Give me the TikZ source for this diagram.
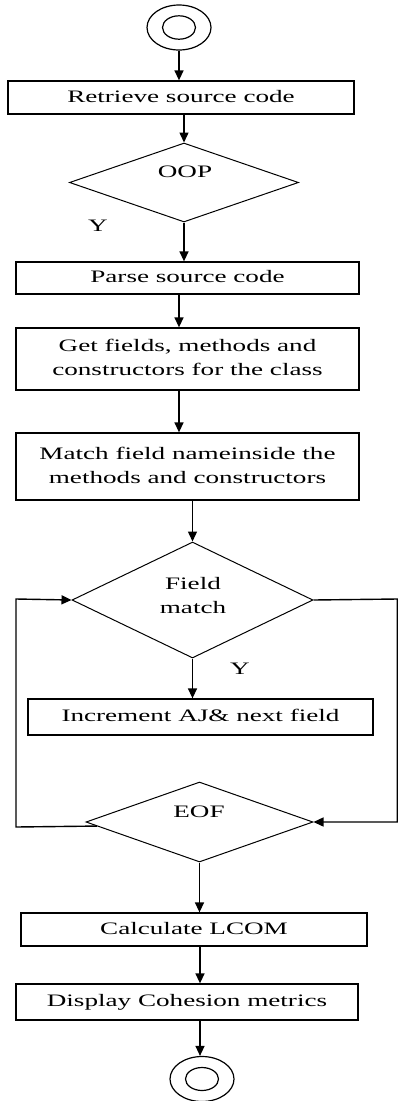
\documentclass[tikz,border=0pt]{standalone}
\usepackage{fontspec}
\setmainfont{Liberation Serif}
\usepackage{graphicx}
\usetikzlibrary{shapes.geometric,arrows.meta,calc}

% wide serif lettering used throughout the chart
\newcommand{\wtxt}[1]{\scalebox{1.55}[1]{\begin{tabular}{@{}c@{}}#1\end{tabular}}}

\tikzset{
  flow/.style={line width=1.4pt, draw=black},
  arr/.style={flow, -{Triangle[length=10pt,width=9pt]}},
  procbox/.style={draw, line width=1.3pt, rectangle, inner sep=0pt,
    font=\fontsize{17.5}{24}\selectfont},
  decision/.style={draw, line width=1pt, diamond, inner sep=0pt},
  lbl/.style={font=\fontsize{17.5}{24}\selectfont, inner sep=0pt},
  terminal/.style={draw, line width=1.2pt, ellipse, inner sep=0pt,
    minimum width=64pt, minimum height=45pt},
}

\begin{document}
\begin{tikzpicture}[x=1pt, y=-1pt]
  \useasboundingbox[fill=white] (0,0) rectangle (398,1101);

  % start / end symbols
  \node[terminal] (start) at (179,27.5) {};
  \draw[line width=1.2pt] (start.center) ellipse [x radius=16.5pt, y radius=11.7pt];
  \node[terminal] (stop) at (202,1079) {};
  \draw[line width=1.2pt] (stop.center) ellipse [x radius=16.5pt, y radius=11.5pt];

  % process steps
  \node[procbox, minimum width=346pt, minimum height=33pt] (retr) at (181,97.5)
    {\wtxt{Retrieve source code}};
  \node[procbox, minimum width=343pt, minimum height=32pt] (parse) at (187.5,278)
    {\wtxt{Parse source code}};
  \node[procbox, minimum width=343pt, minimum height=62pt] (get) at (187.5,359)
    {\wtxt{Get fields, methods and\\constructors for the class}};
  \node[procbox, minimum width=343pt, minimum height=67pt] (match) at (187.5,466.5)
    {\wtxt{Match field nameinside the\\methods and constructors}};
  \node[procbox, minimum width=345pt, minimum height=36pt] (inc) at (200.5,717)
    {\wtxt{Increment AJ\& next field}};
  \node[procbox, minimum width=346pt, minimum height=33pt] (calc) at (194,929.5)
    {\wtxt{Calculate LCOM}};
  \node[procbox, minimum width=342pt, minimum height=36pt] (disp) at (187,1002)
    {\wtxt{Display Cohesion metrics}};

  % decisions
  \node[decision, minimum width=229pt, minimum height=79pt] (oop) at (184,182.5) {};
  \node[lbl] (oopt) at (185,173) {\wtxt{OOP}};
  \node[decision, minimum width=241pt, minimum height=116pt] (field) at (192.5,600) {};
  \node[lbl] (fieldt) at (193,596.5) {\wtxt{Field\\match}};
  \node[decision, minimum width=227pt, minimum height=80pt] (eof) at (199.5,822) {};
  \node[lbl] (eoft) at (199,813) {\wtxt{EOF}};

  % branch labels
  \node[lbl] (y1) at (98,227) {\wtxt{Y}};
  \node[lbl] (y2) at (240,670) {\wtxt{Y}};

  % loop routing points
  \coordinate (lb) at (16,827);
  \coordinate (lt) at (16,599);
  \coordinate (rt) at (397.3,599);
  \coordinate (rb) at (397.3,822);

  % main flow
  \draw[arr] (start.south) -- (start.south |- retr.north);
  \draw[arr] (retr.south -| oop.north) -- (oop.north);
  \draw[arr] (oop.south) -- (oop.south |- parse.north);
  \draw[arr] (parse.south -| start.south) -- (get.north -| start.south);
  \draw[arr] (get.south -| start.south) -- (match.north -| start.south);
  \draw[arr] (match.south -| field.north) -- (field.north);
  \draw[arr] (field.south) -- (field.south |- inc.north);
  \draw[arr] (eof.south) -- (eof.south |- calc.north);
  \draw[arr] ($(calc.south -| stop.north)+(-2,0)$) -- ($(disp.north -| stop.north)+(-2,0)$);
  \draw[arr] ($(disp.south -| stop.north)+(-2,0)$) -- ($(stop.north)+(-2,0)$);

  % loop back from EOF to the field test
  \draw[arr] ($(eof.west)!0.1!(eof.south)$) -- (lb) -- (lt) -- (field.west);
  \draw[arr] (field.east) -- (rt) -- (rb) -- (eof.east);
\end{tikzpicture}
\end{document}
